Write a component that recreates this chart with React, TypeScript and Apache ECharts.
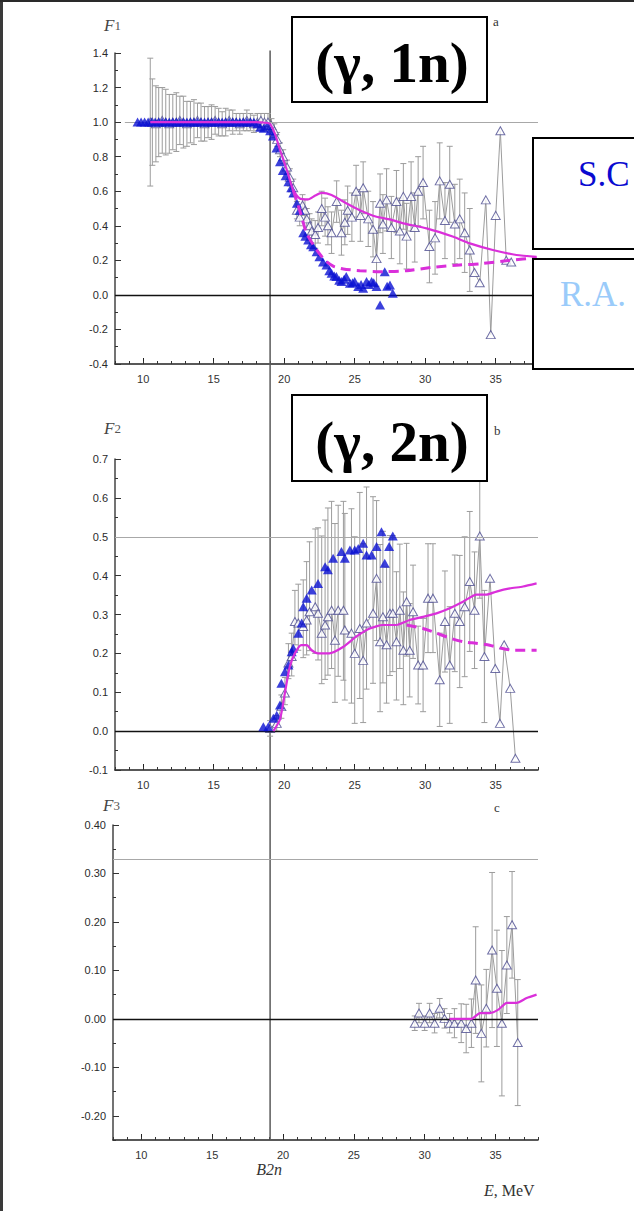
import React, { useEffect, useRef } from 'react';
import * as echarts from 'echarts';

// Two-neutron separation energy (MeV), marked by the vertical line
const B2N = 19.0;

// ---------- Panel a: F1 (γ, 1n) ----------
const aFilledE = [9.6, 9.85, 10.1, 10.35, 10.6, 10.85, 11.1, 11.35, 11.6, 11.85, 12.1, 12.35, 12.6, 12.85, 13.1, 13.35, 13.6, 13.85, 14.1, 14.35, 14.6, 14.85, 15.1, 15.35, 15.6, 15.85, 16.1, 16.35, 16.6, 16.85, 17.1, 17.35, 17.6, 17.85, 18.1,
  18.3, 18.55, 18.8, 19.0, 19.2, 19.45, 19.7, 19.9, 20.1, 20.3, 20.5, 20.65, 20.9, 21.1, 21.35, 21.5, 21.7, 21.9, 22.06, 22.3, 22.5, 22.75, 23.0, 23.2, 23.36, 23.55, 23.7, 23.9, 24.06, 24.25, 24.4, 24.66, 24.85, 25.0, 25.25, 25.45, 25.6, 25.84, 26.0, 26.2, 26.35, 26.55, 26.8, 27.13, 27.3, 27.5, 27.7];
const aFilledF = [1.0, 1.0, 1.0, 1.0, 1.0, 1.0, 1.0, 1.0, 1.0, 1.0, 1.0, 1.0, 1.0, 1.0, 1.0, 1.0, 1.0, 1.0, 1.0, 1.0, 1.0, 1.0, 1.0, 1.0, 1.0, 1.0, 1.0, 1.0, 1.0, 1.0, 1.0, 1.0, 1.0, 1.0, 0.99,
  0.97, 0.965, 0.98, 0.95, 0.92, 0.85, 0.77, 0.72, 0.69, 0.655, 0.62, 0.59, 0.53, 0.49, 0.36, 0.34, 0.317, 0.29, 0.279, 0.25, 0.221, 0.19, 0.173, 0.14, 0.125, 0.11, 0.106, 0.085, 0.077, 0.09, 0.106, 0.067, 0.07, 0.077, 0.048, 0.06, 0.038, 0.077, 0.06, 0.077, 0.07, 0.048, -0.058, 0.134, 0.05, 0.057, 0.009];

const aOpenE = [10.5, 10.65, 10.9, 11.1, 11.35, 11.6, 11.85, 12.1, 12.35, 12.6, 12.85, 13.1, 13.35, 13.6, 13.85, 14.1, 14.35, 14.6, 14.85, 15.1, 15.35, 15.6, 15.85, 16.1, 16.35, 16.6, 16.85, 17.1, 17.35, 17.6, 17.85, 18.1, 18.35, 18.6, 18.85,
  19.1, 19.3, 19.5, 19.7, 19.93, 20.2, 20.4, 20.64, 20.9, 21.1, 21.3, 21.47, 21.6, 21.8, 21.95, 22.2, 22.4, 22.66, 22.9, 23.1, 23.36, 23.72, 24.06, 24.3, 24.5, 24.8, 25.1, 25.4, 25.6, 25.96, 26.3, 26.55, 26.8, 27.0, 27.26, 27.6, 27.96, 28.2, 28.45, 28.68, 29.0, 29.26, 29.5, 29.85, 30.3, 30.7, 31.03, 31.4, 31.74, 32.1, 32.45, 32.8, 33.16, 33.5, 33.87, 34.3, 34.65, 35.0, 35.33, 35.75, 36.1];
const aOpenF = [1.0, 1.0, 0.99, 1.0, 1.01, 1.0, 0.99, 1.0, 1.0, 1.01, 1.0, 0.99, 1.0, 1.0, 1.01, 1.0, 0.99, 1.0, 1.0, 1.01, 1.0, 0.99, 1.0, 1.01, 1.0, 1.0, 0.99, 1.0, 1.01, 1.0, 0.99, 1.0, 1.01, 1.0, 1.0,
  0.98, 0.95, 0.9, 0.84, 0.8, 0.74, 0.68, 0.62, 0.49, 0.45, 0.52, 0.49, 0.44, 0.4, 0.37, 0.35, 0.39, 0.5, 0.45, 0.4, 0.36, 0.54, 0.36, 0.42, 0.49, 0.45, 0.6, 0.46, 0.62, 0.44, 0.38, 0.21, 0.53, 0.41, 0.55, 0.39, 0.54, 0.37, 0.57, 0.34, 0.57, 0.39, 0.6, 0.65, 0.28, 0.33, 0.66, 0.43, 0.64, 0.41, 0.44, 0.36, 0.26, 0.13, 0.07, 0.55, -0.23, 0.46, 0.95, 0.2, 0.19];
const aOpenErr = [0.37, 0.25, 0.22, 0.2, 0.19, 0.19, 0.17, 0.16, 0.17, 0.14, 0.15, 0.13, 0.12, 0.13, 0.1, 0.11, 0.1, 0.09, 0.1, 0.08, 0.08, 0.07, 0.08, 0.06, 0.07, 0.05, 0.06, 0.05, 0.06, 0.05, 0.05, 0.05, 0.04, 0.05, 0.05,
  0.04, 0.04, 0.04, 0.04, 0.04, 0.04, 0.05, 0.05, 0.05, 0.05, 0.06, 0.06, 0.06, 0.07, 0.07, 0.08, 0.09, 0.1, 0.11, 0.11, 0.12, 0.12, 0.13, 0.13, 0.14, 0.14, 0.15, 0.15, 0.15, 0.16, 0.16, 0.16, 0.17, 0.17, 0.18, 0.18, 0.18, 0.19, 0.19, 0.19, 0.2, 0.2, 0.2, 0.21, 0.21, 0.21, 0.22, 0.22, 0.22, 0.23, 0.23, 0.23, 0.24, 0, 0, 0, 0, 0, 0, 0, 0];

const aFitE = [10.5, 12, 14, 16, 18, 18.8, 19.0, 19.35, 19.7, 20.2, 20.64, 21.1, 21.7, 22.2, 22.66, 23.36, 24.4, 25.36, 26.55, 27.5, 28.45, 30.1, 32.0, 33.16, 34.8, 36.47, 37.9];
const aFitF = [1.0, 1.0, 1.0, 1.0, 1.0, 0.995, 0.99, 0.93, 0.84, 0.72, 0.606, 0.558, 0.553, 0.575, 0.59, 0.578, 0.53, 0.49, 0.452, 0.437, 0.414, 0.385, 0.336, 0.298, 0.26, 0.231, 0.22];
const aDashE = [20.64, 21.1, 21.59, 22.3, 22.9, 23.5, 24.2, 25.36, 27.0, 28.68, 30.55, 32.45, 33.87, 36.0, 37.9];
const aDashF = [0.606, 0.49, 0.356, 0.26, 0.2, 0.165, 0.15, 0.14, 0.134, 0.14, 0.16, 0.173, 0.18, 0.2, 0.215];

// ---------- Panel b: F2 (γ, 2n) ----------
const bFilledE = [18.52, 18.87, 19.23, 19.47, 19.7, 19.8, 20.05, 20.3, 20.53, 20.64, 21.0, 21.24, 21.35, 21.59, 21.95, 22.4, 22.9, 23.1, 23.47, 24.06, 24.3, 24.66, 25.0, 25.25, 25.6, 25.84, 26.2, 26.55, 26.9, 27.13, 27.44, 27.7];
const bFilledF = [0.011, 0.011, 0.033, 0.041, 0.067, 0.123, 0.153, 0.17, 0.204, 0.213, 0.252, 0.278, 0.32, 0.342, 0.363, 0.38, 0.423, 0.415, 0.445, 0.462, 0.445, 0.466, 0.466, 0.47, 0.483, 0.453, 0.453, 0.475, 0.513, 0.432, 0.475, 0.502];

const bOpenE = [19.0, 19.47, 19.8, 20.05, 20.3, 20.53, 20.76, 21.0, 21.35, 21.59, 21.8, 22.2, 22.4, 22.66, 22.9, 23.1, 23.36, 23.6, 23.83, 24.2, 24.3, 24.77, 25.0, 25.36, 25.6, 25.84, 26.3, 26.55, 26.8, 27.0, 27.26, 27.5, 27.7, 27.96, 28.2, 28.45, 28.68, 28.9, 29.14, 29.5, 29.85, 30.2, 30.55, 31.03, 31.4, 31.74, 32.1, 32.45, 32.8, 33.16, 33.5, 33.87, 34.2, 34.6, 34.97, 35.3, 35.6, 36.03, 36.4];
const bOpenF = [0.007, 0.02, 0.063, 0.098, 0.175, 0.192, 0.282, 0.278, 0.269, 0.286, 0.307, 0.32, 0.303, 0.252, 0.273, 0.294, 0.311, 0.234, 0.311, 0.311, 0.26, 0.252, 0.2, 0.264, 0.182, 0.278, 0.303, 0.393, 0.23, 0.294, 0.222, 0.303, 0.303, 0.23, 0.311, 0.208, 0.333, 0.208, 0.307, 0.17, 0.17, 0.342, 0.342, 0.132, 0.282, 0.17, 0.303, 0.282, 0.32, 0.385, 0.311, 0.502, 0.192, 0.393, 0.161, 0.02, 0.222, 0.11, -0.07];
const bOpenErrLow = [0.02, 0.02, 0.03, 0.03, 0.04, 0.05, 0.06, 0.07, 0.08, 0.09, 0.1, 0.12, 0.12, 0.13, 0.14, 0.15, 0.15, 0.16, 0.17, 0.18, 0.18, 0.18, 0.18, 0.18, 0.16, 0.17, 0.18, 0.16, 0.18, 0.17, 0.15, 0.16, 0.15, 0.15, 0.15, 0.14, 0.14, 0.12, 0.12, 0.1, 0.12, 0.14, 0.14, 0.12, 0.13, 0.15, 0.15, 0.17, 0.18, 0.18, 0.15, 0.16, 0.17, 0, 0, 0, 0, 0, 0];
const bOpenErrHigh = [0.02, 0.02, 0.03, 0.04, 0.05, 0.06, 0.08, 0.1, 0.12, 0.15, 0.18, 0.2, 0.22, 0.25, 0.27, 0.28, 0.28, 0.3, 0.27, 0.28, 0.3, 0.32, 0.3, 0.35, 0.3, 0.35, 0.3, 0.2, 0.25, 0.22, 0.2, 0.2, 0.2, 0.18, 0.17, 0.15, 0.15, 0.12, 0.12, 0.1, 0.12, 0.14, 0.14, 0.12, 0.13, 0.15, 0.15, 0.17, 0.18, 0.18, 0.15, 0.16, 0.17, 0, 0, 0, 0, 0, 0];

const bFitE = [19.23, 19.7, 20.05, 20.4, 20.76, 21.2, 21.6, 21.95, 22.4, 23.2, 24.2, 25.1, 26.07, 27.0, 27.96, 28.9, 29.85, 30.8, 31.74, 32.68, 33.63, 34.34, 35.05, 36.0, 36.94, 37.9];
const bFitF = [0.0, 0.03, 0.098, 0.167, 0.2, 0.221, 0.221, 0.208, 0.2, 0.2, 0.217, 0.243, 0.264, 0.273, 0.273, 0.286, 0.294, 0.303, 0.316, 0.333, 0.351, 0.351, 0.359, 0.367, 0.372, 0.38];
const bDashE = [28.68, 29.85, 30.8, 31.7, 32.68, 33.6, 34.57, 35.4, 36.2, 37.9];
const bDashF = [0.273, 0.264, 0.252, 0.24, 0.23, 0.226, 0.221, 0.213, 0.208, 0.208];

// ---------- Panel c: F3 ----------
const cOpenE = [29.3, 29.6, 30.0, 30.35, 30.7, 31.06, 31.4, 31.76, 32.1, 32.58, 32.93, 33.3, 33.6, 34.0, 34.35, 34.76, 35.1, 35.45, 35.8, 36.17, 36.57];
const cOpenF = [-0.009, 0.012, -0.009, 0.012, -0.009, 0.022, 0.001, -0.009, -0.009, -0.009, -0.02, -0.009, 0.08, -0.03, 0.022, 0.142, 0.063, -0.009, 0.111, 0.194, -0.049];
const cOpenErr = [0.015, 0.02, 0.015, 0.02, 0.02, 0.02, 0.02, 0.02, 0.03, 0.04, 0.05, 0.05, 0.11, 0.1, 0.08, 0.16, 0.12, 0.15, 0.1, 0.11, 0.13];
const cFitE = [31.76, 33.3, 33.9, 34.6, 35.2, 35.8, 36.5, 37.2, 37.9];
const cFitF = [0.0, 0.0, 0.012, 0.012, 0.019, 0.033, 0.033, 0.043, 0.05];

// Reference levels: classical limits of F1, F2, F3
const refLevels = [1.0, 0.5, 0.33];

const xTicks = ['10', '15', '20', '25', '30', '35'];

const MAGENTA = '#DA2FDA';
const OPEN_EDGE = '#4C4C90';
const FILLED = '#0A10D2';
const GRAY = '#9C9C9C';
const SANS = '"Liberation Sans", Arial, sans-serif';
const SERIF = '"Liberation Serif", "Times New Roman", serif';

const pairs = (xs: number[], ys: number[]) => xs.map((x, i) => [x, ys[i]]);

function errorBars(idx: number, es: number[], fs: number[], lows: number[], highs: number[]) {
  const data = es
    .map((e, i) => [e, fs[i] - lows[i], fs[i] + highs[i], lows[i] + highs[i]])
    .filter((d) => d[3] > 0);
  return {
    type: 'custom',
    xAxisIndex: idx,
    yAxisIndex: idx,
    z: 2,
    silent: true,
    renderItem: (_params: any, api: any) => {
      const e = api.value(0);
      const top = api.coord([e, api.value(2)]);
      const bot = api.coord([e, api.value(1)]);
      const cap = 3;
      const style = { stroke: GRAY, lineWidth: 1 };
      return {
        type: 'group',
        children: [
          { type: 'line', shape: { x1: top[0], y1: top[1], x2: bot[0], y2: bot[1] }, style },
          { type: 'line', shape: { x1: top[0] - cap, y1: top[1], x2: top[0] + cap, y2: top[1] }, style },
          { type: 'line', shape: { x1: bot[0] - cap, y1: bot[1], x2: bot[0] + cap, y2: bot[1] }, style },
        ],
      };
    },
    encode: { x: 0, y: [1, 2] },
    data,
  };
}

function openSeries(idx: number, es: number[], fs: number[], refStart: number) {
  return [
    {
      type: 'line',
      xAxisIndex: idx,
      yAxisIndex: idx,
      data: pairs(es, fs),
      symbol: 'none',
      lineStyle: { color: GRAY, width: 1 },
      z: 3,
      silent: true,
      markLine: {
        silent: true,
        symbol: ['none', 'none'],
        label: { show: false },
        data: [
          [
            { coord: [refStart, refLevels[idx]], lineStyle: { color: '#A8A8A8', width: 1, type: 'solid' } },
            { coord: [38, refLevels[idx]] },
          ],
          { yAxis: 0, lineStyle: { color: '#111', width: 1.3, type: 'solid' } },
        ],
      },
    },
    {
      type: 'scatter',
      xAxisIndex: idx,
      yAxisIndex: idx,
      data: pairs(es, fs),
      symbol: 'triangle',
      symbolSize: [9, 8],
      itemStyle: { color: '#fff', borderColor: OPEN_EDGE, borderWidth: 1 },
      z: 4,
      silent: true,
    },
  ];
}

function filledSeries(idx: number, es: number[], fs: number[]) {
  return {
    type: 'scatter',
    xAxisIndex: idx,
    yAxisIndex: idx,
    data: pairs(es, fs),
    symbol: 'triangle',
    symbolSize: [10, 9],
    itemStyle: { color: FILLED },
    z: 5,
    silent: true,
  };
}

function fitSeries(idx: number, es: number[], fs: number[], dashed: boolean) {
  return {
    type: 'line',
    xAxisIndex: idx,
    yAxisIndex: idx,
    data: pairs(es, fs),
    symbol: 'none',
    smooth: 0.2,
    lineStyle: dashed
      ? { color: MAGENTA, width: 3, type: [10, 6] }
      : { color: MAGENTA, width: 2.2 },
    z: 6,
    silent: true,
  };
}

const grids = [
  { left: 115, top: 53, width: 423, height: 311 },
  { left: 115, top: 459, width: 423, height: 311 },
  { left: 113, top: 825, width: 425, height: 315 },
];

const yRanges = [
  { min: -0.4, max: 1.4, interval: 0.2, minor: 0.1, digits: 1 },
  { min: -0.1, max: 0.7, interval: 0.1, minor: 0.05, digits: 1 },
  { min: -0.25, max: 0.4, interval: 0, minor: 0.05, digits: 2 },
];

function buildOption() {
  const xAxis: any[] = [];
  const yAxis: any[] = [];
  grids.forEach((_g, i) => {
    xAxis.push({
      type: 'value',
      gridIndex: i,
      position: 'bottom',
      min: 8,
      max: 38,
      splitNumber: 6,
      axisLine: { onZero: false, lineStyle: { color: '#222', width: 1.5 } },
      axisTick: { inside: true, length: 6, lineStyle: { color: '#222', width: 1 } },
      axisLabel: {
        color: '#333',
        fontSize: 11,
        fontFamily: SANS,
        margin: 9,
        showMinLabel: false,
        showMaxLabel: false,
        formatter: (v: number) => (xTicks.includes(String(v)) ? String(v) : ''),
      },
      splitLine: { show: false },
    });
    const r = yRanges[i];
    yAxis.push({
      type: 'value',
      gridIndex: i,
      position: 'left',
      min: r.min,
      max: r.max,
      ...(r.interval ? { interval: r.interval } : { splitNumber: 6 }),
      axisLine: { onZero: false, lineStyle: { color: '#444', width: 1.5 } },
      axisTick: { inside: true, length: 6, lineStyle: { color: '#333', width: 1 } },
      axisLabel: {
        color: '#2A2A2A',
        fontSize: 11,
        fontFamily: SANS,
        margin: 7,
        showMinLabel: i !== 2,
        formatter: (v: number) => v.toFixed(r.digits),
      },
      splitLine: { show: false },
    });
  });
  // Fine tick marks on separate, label-free axes
  grids.forEach((_g, i) => {
    xAxis.push({
      type: 'value',
      gridIndex: i,
      position: 'bottom',
      min: 8,
      max: 38,
      interval: 1,
      axisLine: { show: false, onZero: false },
      axisTick: { inside: true, length: 3, lineStyle: { color: '#333', width: 1 } },
      axisLabel: { show: false },
      splitLine: { show: false },
    });
    const r = yRanges[i];
    yAxis.push({
      type: 'value',
      gridIndex: i,
      position: 'left',
      min: r.min,
      max: r.max,
      interval: r.minor,
      axisLine: { show: false, onZero: false },
      axisTick: { inside: true, length: 3, lineStyle: { color: '#333', width: 1 } },
      axisLabel: { show: false },
      splitLine: { show: false },
    });
  });

  const series: any[] = [
    errorBars(0, aOpenE, aOpenF, aOpenErr, aOpenErr),
    ...openSeries(0, aOpenE, aOpenF, 8.7),
    filledSeries(0, aFilledE, aFilledF),
    fitSeries(0, aFitE, aFitF, false),
    fitSeries(0, aDashE, aDashF, true),

    errorBars(1, bOpenE, bOpenF, bOpenErrLow, bOpenErrHigh),
    ...openSeries(1, bOpenE, bOpenF, 8),
    filledSeries(1, bFilledE, bFilledF),
    fitSeries(1, bFitE, bFitF, false),
    fitSeries(1, bDashE, bDashF, true),

    errorBars(2, cOpenE, cOpenF, cOpenErr, cOpenErr),
    ...openSeries(2, cOpenE, cOpenF, 8),
    fitSeries(2, cFitE, cFitF, false),
  ];

  return {
    animation: false,
    backgroundColor: '#fff',
    grid: grids,
    xAxis,
    yAxis,
    series,
  };
}

function boxedText(x: number, y: number, w: number, h: number, text: string, font: string, color: string, tx: number, ty: number, align: string) {
  return [
    { type: 'rect', z: 100, shape: { x, y, width: w, height: h }, style: { fill: '#fff', stroke: '#000', lineWidth: 2 } },
    { type: 'text', z: 101, x: tx, y: ty, style: { text, font, fill: color, align, verticalAlign: 'middle' } },
  ];
}

function panelTitle(x: number, y: number, idx: string) {
  return {
    type: 'text',
    z: 50,
    x,
    y,
    style: {
      text: `{i|F}{n|${idx}}`,
      verticalAlign: 'middle',
      rich: {
        i: { fontFamily: SERIF, fontStyle: 'italic', fontSize: 17, fill: '#444' },
        n: { fontFamily: SERIF, fontSize: 13, fill: '#555' },
      },
    },
  };
}

export default function App() {
  const ref = useRef<HTMLDivElement>(null);
  useEffect(() => {
    if (!ref.current) return;
    const chart = echarts.init(ref.current, undefined, { renderer: 'svg' });
    chart.setOption(buildOption());

    const bx = chart.convertToPixel({ xAxisIndex: 0 } as any, B2N) as number;
    const byTop = chart.convertToPixel({ yAxisIndex: 0 } as any, 1.415) as number;
    const byBot = chart.convertToPixel({ yAxisIndex: 2 } as any, -0.25) as number;

    const graphic: any[] = [
      // B2n threshold line through all three panels
      { type: 'line', z: 1, shape: { x1: bx, y1: byTop, x2: bx, y2: byBot }, style: { stroke: '#5A5A5A', lineWidth: 1.5 } },
      panelTitle(104, 25, '1'),
      panelTitle(104, 428, '2'),
      panelTitle(103, 805, '3'),
      { type: 'text', z: 50, x: 493, y: 21, style: { text: 'a', font: `13px ${SERIF}`, fill: '#333', verticalAlign: 'middle' } },
      { type: 'text', z: 50, x: 494, y: 430, style: { text: 'b', font: `13px ${SERIF}`, fill: '#333', verticalAlign: 'middle' } },
      { type: 'text', z: 50, x: 494, y: 807, style: { text: 'c', font: `13px ${SERIF}`, fill: '#333', verticalAlign: 'middle' } },
      {
        type: 'text', z: 50, x: bx - 1, y: 1169,
        style: { text: 'B2n', font: `italic 16px ${SERIF}`, fill: '#333', align: 'center', verticalAlign: 'middle' },
      },
      {
        type: 'text', z: 50, x: 484, y: 1190,
        style: {
          text: '{i|E}{n|, MeV}',
          verticalAlign: 'middle',
          rich: {
            i: { fontFamily: SERIF, fontStyle: 'italic', fontSize: 16, fill: '#333' },
            n: { fontFamily: SERIF, fontSize: 16, fill: '#333' },
          },
        },
      },
      ...boxedText(292, 17, 195, 85, '(γ, 1n)', `bold 57px ${SERIF}`, '#000', 392, 62, 'center'),
      ...boxedText(292, 395, 195, 86, '(γ, 2n)', `bold 57px ${SERIF}`, '#000', 392, 441, 'center'),
      ...boxedText(533, 138, 110, 111, 'S.C', `35px ${SERIF}`, '#0A0AD0', 578, 174, 'left'),
      ...boxedText(533, 259, 110, 110, 'R.A.', `35px ${SERIF}`, '#9ACBFA', 560, 294, 'left'),
      // page frame
      { type: 'rect', z: 120, shape: { x: 0, y: 0, width: 3, height: 1211 }, style: { fill: '#3A3A3A' } },
      { type: 'rect', z: 120, shape: { x: 0, y: 0, width: 634, height: 2 }, style: { fill: '#2A2A2A' } },
    ];
    chart.setOption({ graphic });

    return () => chart.dispose();
  }, []);

  return (
    <div
      ref={ref}
      style={{ position: 'fixed', left: 0, top: 0, width: 634, height: 1211, background: '#fff' }}
    />
  );
}
